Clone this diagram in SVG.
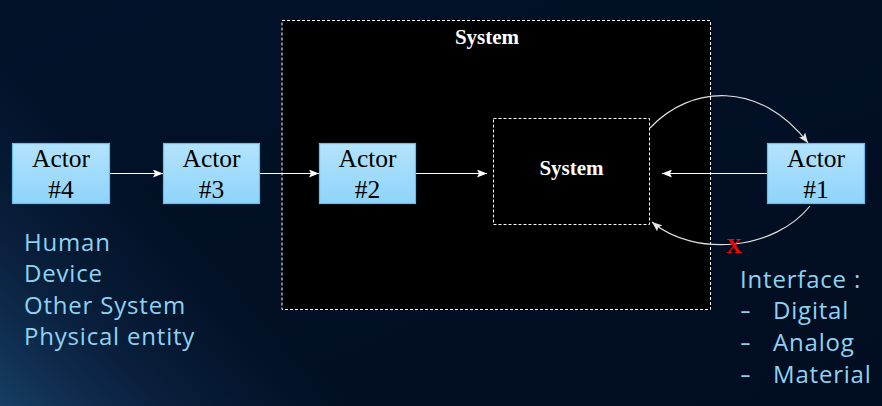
<svg xmlns="http://www.w3.org/2000/svg" width="882" height="406" viewBox="0 0 882 406">
<defs>
<linearGradient id="bg" x1="0" y1="0" x2="1" y2="1">
<stop offset="0" stop-color="#03122a"/>
<stop offset="1" stop-color="#010d20"/>
</linearGradient>
<linearGradient id="glow" x1="0" y1="406" x2="180" y2="226" gradientUnits="userSpaceOnUse">
<stop offset="0" stop-color="#1a4670" stop-opacity="0.85"/>
<stop offset="0.5" stop-color="#0f2d50" stop-opacity="0.5"/>
<stop offset="1" stop-color="#0a2340" stop-opacity="0"/>
</linearGradient>
<linearGradient id="actorFill" x1="0" y1="0" x2="0" y2="1">
<stop offset="0" stop-color="#b3e3fc"/>
<stop offset="1" stop-color="#8fd4fb"/>
</linearGradient>
<marker id="arr" markerWidth="10" markerHeight="8" refX="10" refY="4" orient="auto" markerUnits="userSpaceOnUse">
<path d="M0,0 L10,4 L0,8 L2,4 z" fill="#ffffff"/>
</marker>
<marker id="arrG" markerWidth="10" markerHeight="8" refX="10" refY="4" orient="auto" markerUnits="userSpaceOnUse">
<path d="M0,0 L10,4 L0,8 L2,4 z" fill="#e6e6e6"/>
</marker>
</defs>
<style>
.actor rect{fill:url(#actorFill);stroke:#62bff0;stroke-width:1.2}
.actor text{font-family:"Liberation Serif","Times New Roman",serif;font-size:25.5px;fill:#000;text-anchor:middle}
.sys{fill:#000;stroke:#fff;stroke-width:1;stroke-dasharray:3,2}
.title{font-family:"Liberation Serif","Times New Roman",serif;font-size:21px;font-weight:bold;fill:#fff;text-anchor:middle}
.note{font-family:"Open Sans","Noto Sans",sans-serif;font-size:24px;letter-spacing:0.8px;fill:#8ed2f3}
.line{stroke:#fff;stroke-width:1.2;fill:none}
.curve{stroke:#e0e0e0;stroke-width:1.2;fill:none}
</style>
<rect width="882" height="406" fill="url(#bg)"/>
<rect width="882" height="406" fill="url(#glow)"/>

<g id="outer-system">
<rect class="sys" x="282" y="20.5" width="428.5" height="289"/>
<text class="title" x="487" y="44">System</text>
</g>

<g id="inner-system">
<rect class="sys" x="493.5" y="118.5" width="156" height="106"/>
<text class="title" x="571.5" y="175">System</text>
</g>

<g id="actor4" class="actor">
<rect x="12.5" y="143.5" width="97" height="60"/>
<text x="61" y="167">Actor</text>
<text x="61" y="198">#4</text>
</g>
<g id="actor3" class="actor">
<rect x="163.5" y="143.5" width="96" height="60"/>
<text x="211.5" y="167">Actor</text>
<text x="211.5" y="198">#3</text>
</g>
<g id="actor2" class="actor">
<rect x="319.5" y="143.5" width="96" height="60"/>
<text x="367.5" y="167">Actor</text>
<text x="367.5" y="198">#2</text>
</g>
<g id="actor1" class="actor">
<rect x="767.5" y="143.5" width="97" height="60"/>
<text x="816" y="167">Actor</text>
<text x="816" y="198">#1</text>
</g>

<g id="connectors">
<line class="line" x1="110" y1="173.5" x2="163" y2="173.5" marker-end="url(#arr)"/>
<line class="line" x1="260" y1="173.5" x2="319" y2="173.5" marker-end="url(#arr)"/>
<line class="line" x1="416" y1="173.5" x2="487" y2="173.5" marker-end="url(#arr)"/>
<line class="line" x1="767" y1="173.5" x2="662" y2="173.5" marker-end="url(#arr)"/>
<path class="curve" d="M650,128 C690,85 760,80 808,143" marker-end="url(#arrG)"/>
<path class="curve" d="M810,206 C775,250 695,258 652,222" marker-end="url(#arrG)"/>
</g>

<text id="blocked" x="734" y="253" font-family="Liberation Serif, Times New Roman, serif" font-size="22" font-weight="bold" fill="#ff0000" text-anchor="middle">X</text>

<g id="actor-types">
<text class="note" x="24" y="251">Human</text>
<text class="note" x="24" y="282">Device</text>
<text class="note" x="24" y="314">Other System</text>
<text class="note" x="24" y="345">Physical entity</text>
</g>

<g id="interface-types">
<text class="note" x="740" y="288">Interface :</text>
<text class="note" x="740" y="319" textLength="12" lengthAdjust="spacingAndGlyphs">-</text>
<text class="note" x="773" y="319">Digital</text>
<text class="note" x="740" y="351" textLength="12" lengthAdjust="spacingAndGlyphs">-</text>
<text class="note" x="773" y="351">Analog</text>
<text class="note" x="740" y="383" textLength="12" lengthAdjust="spacingAndGlyphs">-</text>
<text class="note" x="773" y="383">Material</text>
</g>
</svg>
